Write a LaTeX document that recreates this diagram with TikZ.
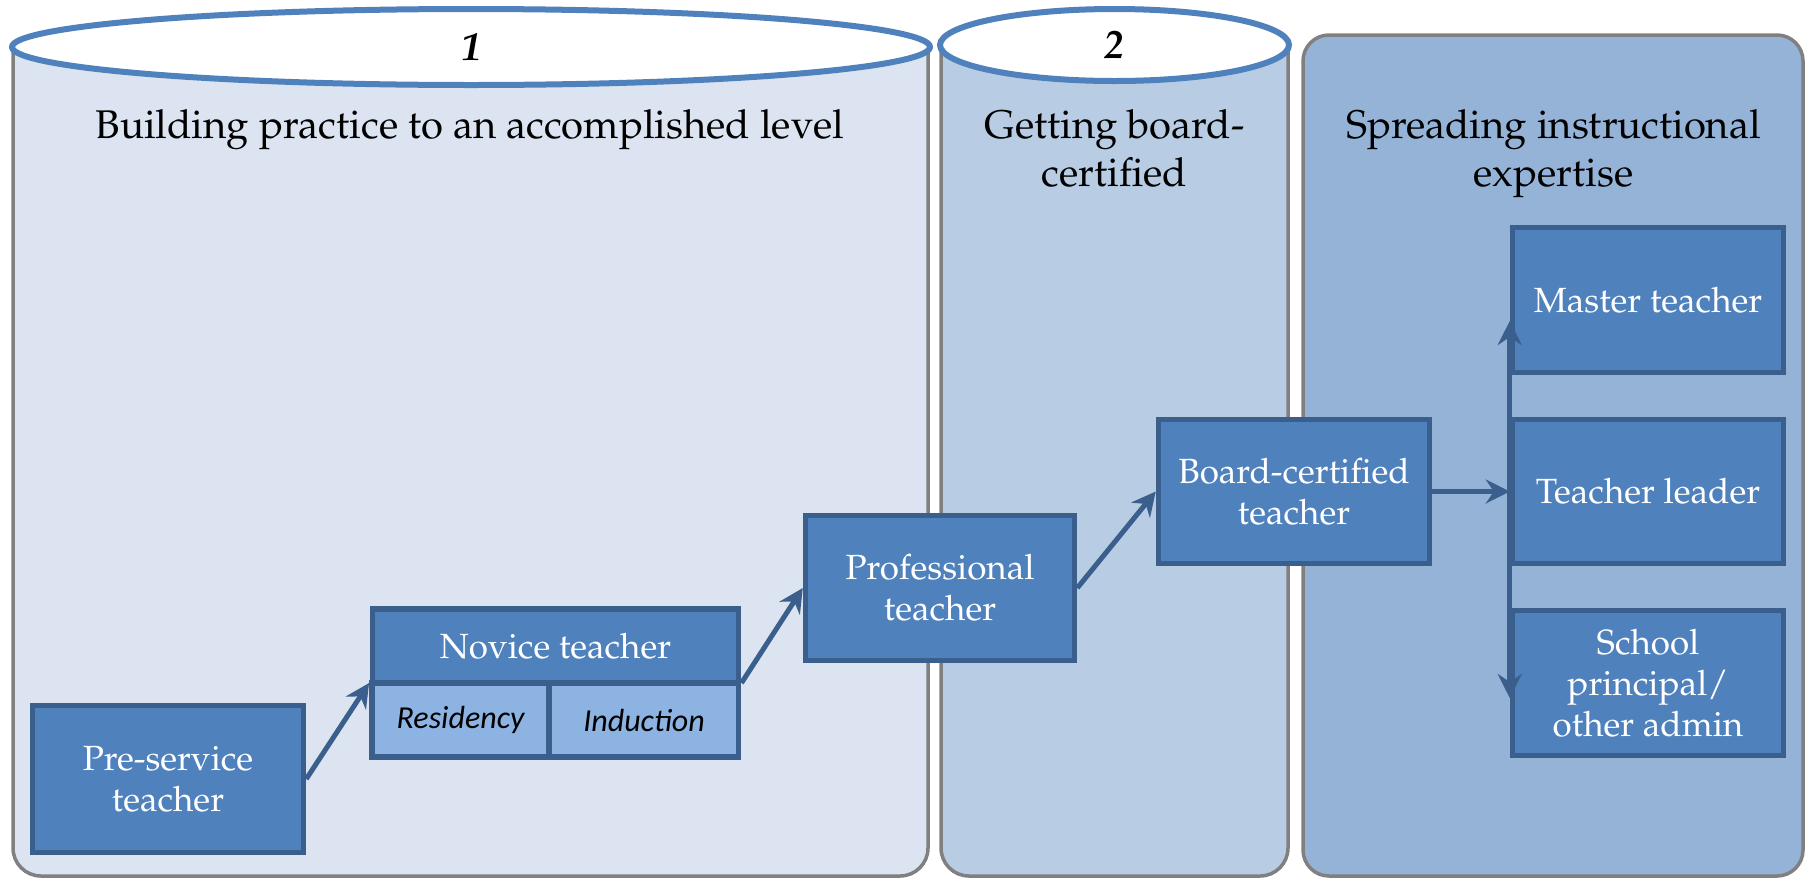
\documentclass[tikz,border=0pt]{standalone}
\usepackage{fontspec}
\newfontfamily\calibri{Carlito}
\usepackage[T1]{fontenc}
\usepackage{mathpazo}
\usetikzlibrary{shapes.geometric,arrows.meta,fit,calc}
\definecolor{pone}{HTML}{DBE4F0}
\definecolor{ptwo}{HTML}{B8CCE4}
\definecolor{pthree}{HTML}{94B3D7}
\definecolor{boxfill}{HTML}{4F81BD}
\definecolor{boxline}{HTML}{3A5F8D}
\definecolor{subfill}{HTML}{8DB3E2}
\definecolor{ellline}{HTML}{4F81BD}
\definecolor{panelline}{HTML}{808080}
\begin{document}
\begin{tikzpicture}[x=1pt,y=-1pt,
  panel/.style={draw=panelline, line width=3.5pt, rounded corners=28pt},
  capell/.style={ellipse, draw=ellline, line width=6pt, fill=white, inner sep=0pt,
    font=\fontsize{40}{48}\selectfont\bfseries\itshape},
  paneltitle/.style={align=center, font=\fontsize{40}{48}\selectfont, anchor=base, inner sep=0pt},
  stagebox/.style={draw=boxline, fill=boxfill, line width=5.5pt, inner sep=0pt, text=white,
    align=center, font=\fontsize{35}{41}\selectfont},
  subbox/.style={draw=boxline, fill=subfill, line width=5.5pt, inner sep=0pt,
    font=\calibri\itshape\fontsize{32}{38}\selectfont},
  arr/.style={draw=boxline, line width=5pt, -{Stealth[length=24pt,width=24pt,inset=8pt]}}
]
\useasboundingbox (0,0) rectangle (1806,879);
\fill[white] (0,0) rectangle (1806,879);

% panels
\draw[panel, fill=pone] (13,46) -- (13,876) -- (928,876) -- (928,46);
\draw[panel, fill=ptwo] (941,46) -- (941,876) -- (1288,876) -- (1288,46);
\draw[panel, fill=pthree, rounded corners=26pt] (1303,35) rectangle (1803,876);

% caps
\node[capell, minimum width=918pt, minimum height=76pt] (e1) at (471,47) {1};
\node[capell, minimum width=349pt, minimum height=72pt] (e2) at (1114.5,45) {2};

% titles
\node[paneltitle] (t1) at (470,138) {Building practice to an accomplished level};
\node[paneltitle] (t2) at (1114.5,186) {Getting board-\\certified};
\node[paneltitle] (t3) at (1553.5,186) {Spreading instructional\\expertise};

% boxes
\node[stagebox, minimum width=271pt, minimum height=147pt] (pre) at (168,779) {Pre-service\\teacher};
\node[stagebox, minimum width=366pt, minimum height=74pt] (novice) at (555.5,646) {Novice teacher};
\node[subbox, minimum width=177pt, minimum height=74pt] (residency) at (460.5,720) {Residency};
\node[subbox, minimum width=189pt, minimum height=74pt] (induction) at (644,720) {Induction};
\node[fit=(novice)(residency)(induction), inner sep=0pt] (novgrp) {};
\node[stagebox, minimum width=269pt, minimum height=145pt] (prof) at (940,588) {Professional\\teacher};
\node[stagebox, minimum width=271pt, minimum height=144pt] (board) at (1294,491.5) {Board-certified\\teacher};
\node[stagebox, minimum width=271pt, minimum height=145pt] (master) at (1648,300) {Master teacher};
\node[stagebox, minimum width=271pt, minimum height=144pt] (leader) at (1648,491.5) {Teacher leader};
\node[stagebox, minimum width=271pt, minimum height=145pt] (school) at (1648,683) {School\\principal/\\other admin};

% connectors
\draw[arr] (pre.east) -- (novgrp.west);
\draw[arr] (novgrp.east) -- (prof.west);
\draw[arr] (prof.east) -- (board.west);
\draw[arr] (board.east) -- (leader.west);
\draw[arr] (leader.west) -- ($(master.west)+(0,21)$);
\draw[arr] (leader.west) -- ($(school.west)+(0,15)$);
\end{tikzpicture}
\end{document}
